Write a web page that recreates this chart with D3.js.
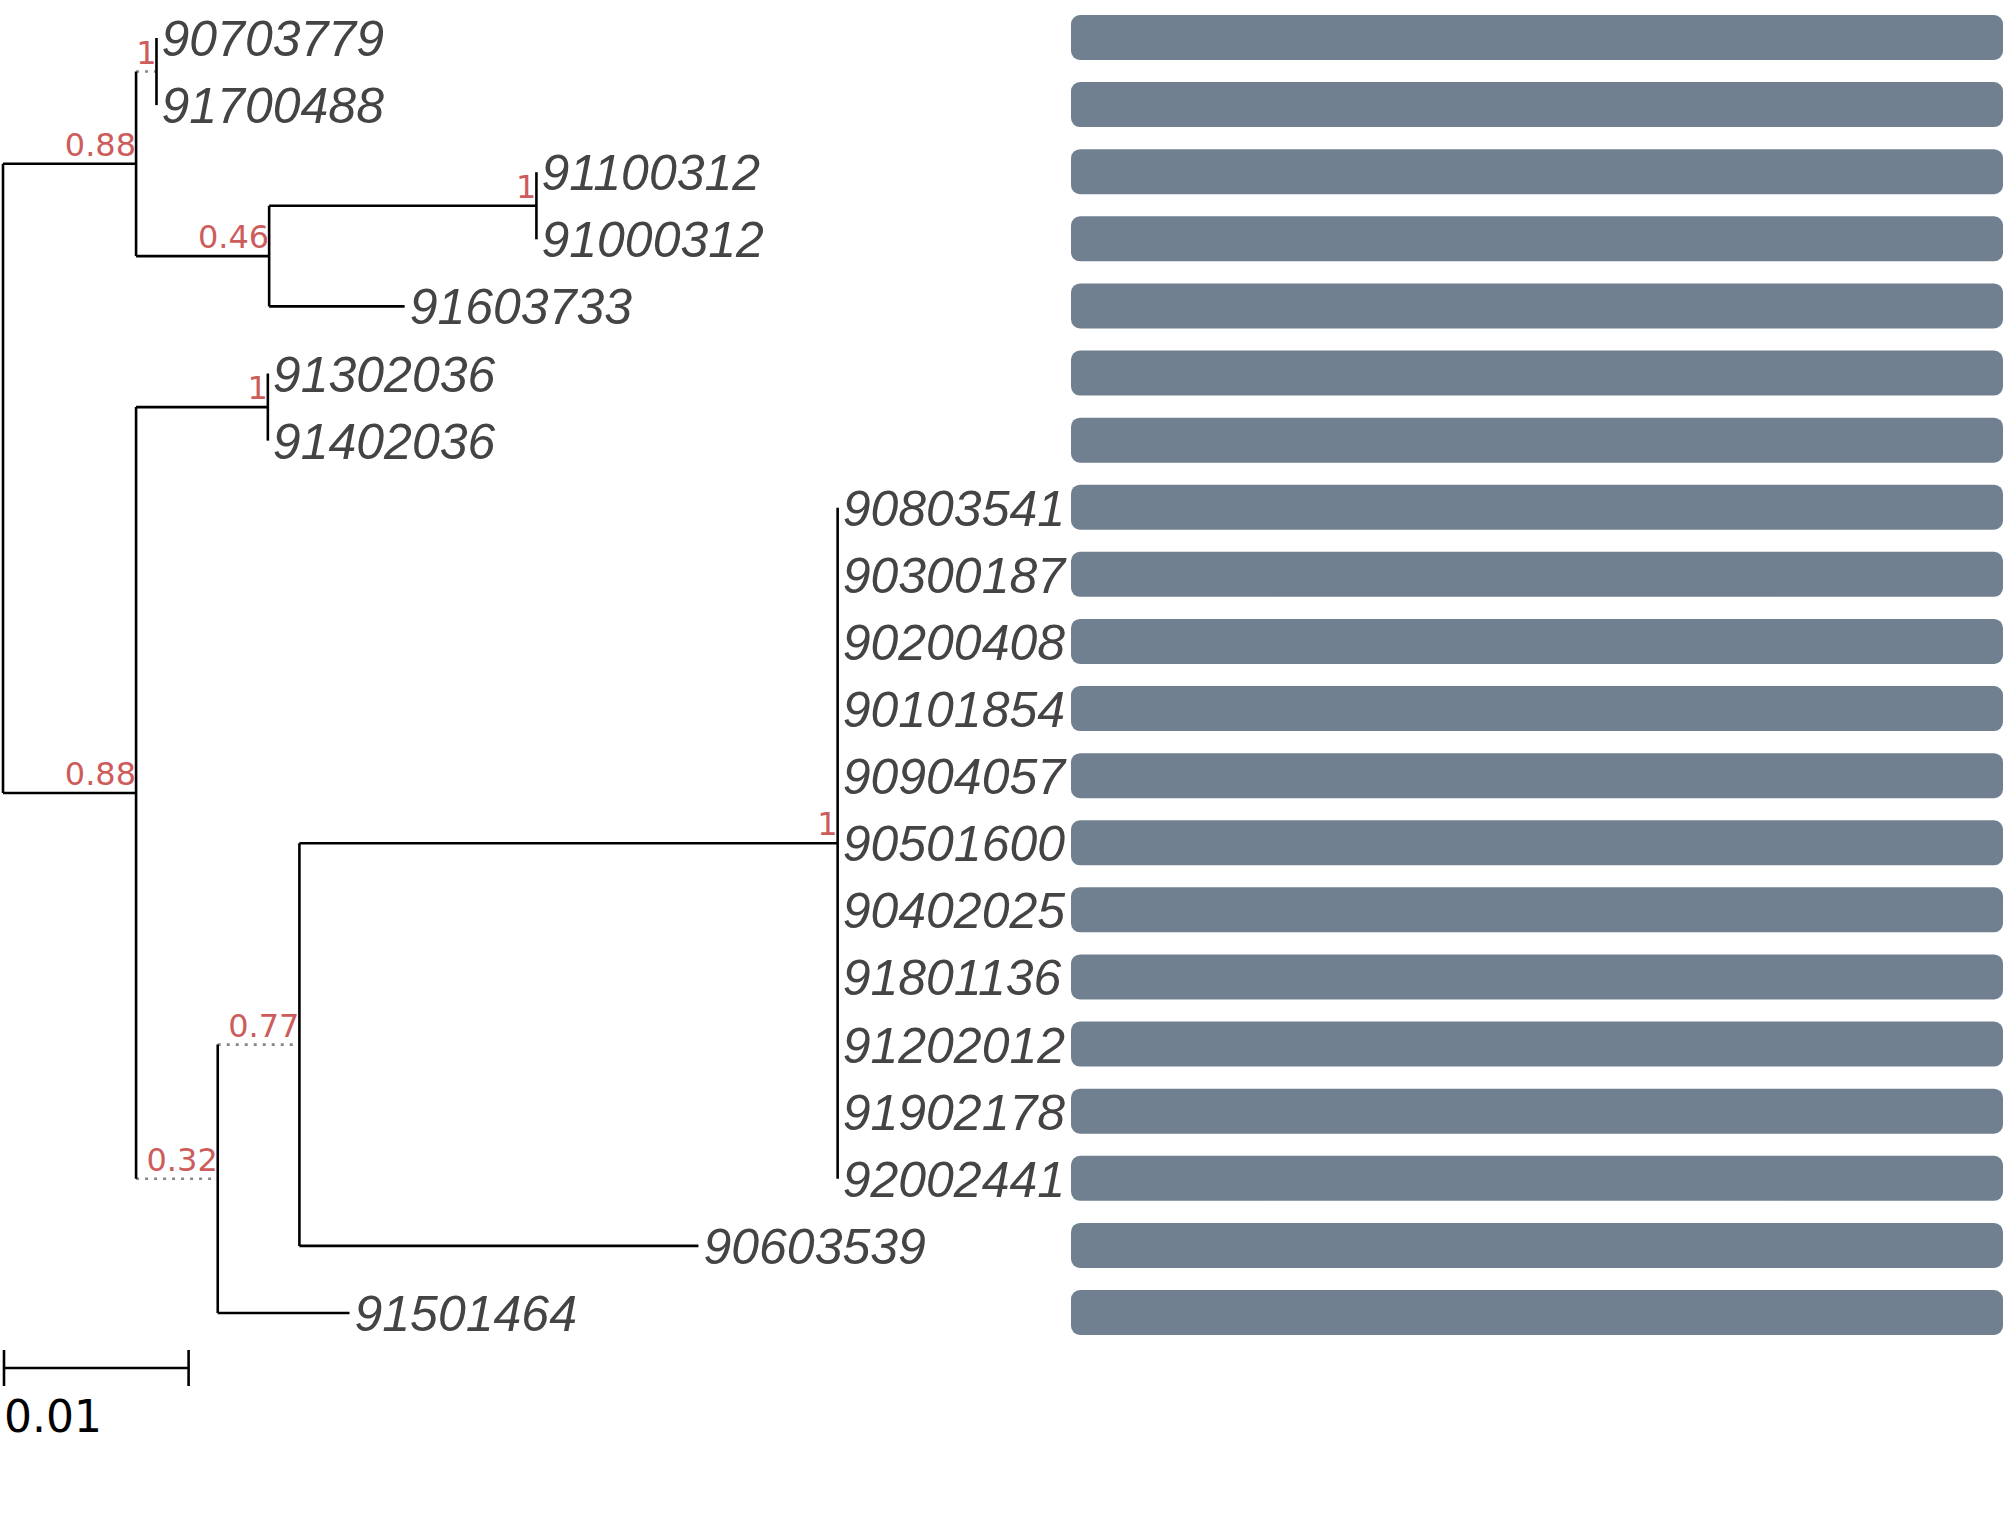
<!DOCTYPE html>
<html lang="en">
<head>
<meta charset="UTF-8">
<title>Phylogenetic tree</title>
<script src="https://d3js.org/d3.v7.min.js"></script>
<style>
  body { margin: 0; background: #fff; }
  .branch { stroke: #000; stroke-width: 2.6; fill: none; }
  .branch.weak { stroke: #888; stroke-dasharray: 3 6; }
  .tip { font-family: "Liberation Sans", Arial, sans-serif; font-style: italic; font-size: 50px; fill: #444; }
  .support { font-family: "DejaVu Sans", sans-serif; font-size: 32px; fill: #cd5c5c; }
  .bar { fill: #708090; }
</style>
</head>
<body>
<svg id="svg"></svg>
<script>
// tree table: id, parent, branch length, support
const nodeIds   = ["root","A","n1a","90703779","91700488","n046","n1b","91100312","91000312","91603733",
                   "B","n1c","91302036","91402036","n032","n077","clade","90803541","90300187","90200408",
                   "90101854","90904057","90501600","90402025","91801136","91202012","91902178","92002441",
                   "90603539","91501464"];
const parents   = [null,"root","A","n1a","n1a","A","n046","n1b","n1b","n046",
                   "root","B","n1c","n1c","B","n032","n077","clade","clade","clade",
                   "clade","clade","clade","clade","clade","clade","clade","clade",
                   "n077","n032"];
const lengths   = [0,0.00717,0.0011,0,0,0.00717,0.0144,0,0,0.0073,
                   0.00717,0.0071,0,0,0.0044,0.0044,0.029,0,0,0,
                   0,0,0,0,0,0,0,0,
                   0.0215,0.0071];
const supports  = {A:"0.88", n1a:"1", n046:"0.46", n1b:"1", B:"0.88", n1c:"1", n032:"0.32", n077:"0.77", clade:"1"};
const weakBranches = ["n1a","n032","n077"];

const W = 2007, H = 1537;
const svg = d3.select("#svg").attr("width", W).attr("height", H);

const rows = nodeIds.map((id, i) => ({id, parent: parents[i], len: lengths[i]}));
const root = d3.stratify().id(d => d.id).parentId(d => d.parent)(rows);
root.each(n => n.dist = (n.parent ? n.parent.dist : 0) + n.data.len);

const leaves = root.leaves();
const x = d3.scaleLinear().domain([0, 0.01]).range([3, 188.6]);
const y = d3.scalePoint().domain(leaves.map(d => d.id)).range([38, 1313]);
root.eachAfter(n => { n.py = n.children ? d3.mean([n.children[0].py, n.children[n.children.length - 1].py]) : y(n.id); });

const g = svg.append("g");
// horizontal branches
g.selectAll(".h").data(root.descendants().filter(d => d.parent)).join("line")
  .attr("class", d => "branch h" + (weakBranches.includes(d.id) ? " weak" : ""))
  .attr("x1", d => x(d.parent.dist)).attr("x2", d => x(d.dist))
  .attr("y1", d => d.py).attr("y2", d => d.py);
// vertical connectors
g.selectAll(".v").data(root.descendants().filter(d => d.children)).join("line")
  .attr("class", "branch v")
  .attr("x1", d => x(d.dist)).attr("x2", d => x(d.dist))
  .attr("y1", d => d.children[0].py).attr("y2", d => d.children[d.children.length - 1].py);

// support values
g.selectAll(".support").data(root.descendants().filter(d => supports[d.id])).join("text")
  .attr("class", "support").attr("text-anchor", "end")
  .attr("x", d => x(d.dist)).attr("y", d => d.py - 8)
  .text(d => supports[d.id]);

// tip labels
g.selectAll(".tip").data(leaves).join("text")
  .attr("class", "tip")
  .attr("x", d => x(d.dist) + 5).attr("y", d => d.py + 18)
  .text(d => d.id);

// bars
const bx = d3.scaleLinear().domain([0, 1]).range([1071, 2003]);
g.selectAll(".bar").data(leaves).join("rect")
  .attr("class", "bar")
  .attr("x", bx(0)).attr("width", bx(1) - bx(0))
  .attr("y", d => y(d.id) - 23).attr("height", 45)
  .attr("rx", 9);

// scale bar
const sb = svg.append("g").attr("stroke", "#000").attr("stroke-width", 2.6);
sb.append("line").attr("x1", x(0) + 1).attr("x2", x(0.01)).attr("y1", 1368).attr("y2", 1368);
sb.append("line").attr("x1", x(0) + 1).attr("x2", x(0) + 1).attr("y1", 1350).attr("y2", 1386);
sb.append("line").attr("x1", x(0.01)).attr("x2", x(0.01)).attr("y1", 1350).attr("y2", 1386);
svg.append("text").attr("x", 4).attr("y", 1432)
  .style("font-family", "DejaVu Sans, sans-serif").style("font-size", "44px")
  .text("0.01");
</script>
</body>
</html>
